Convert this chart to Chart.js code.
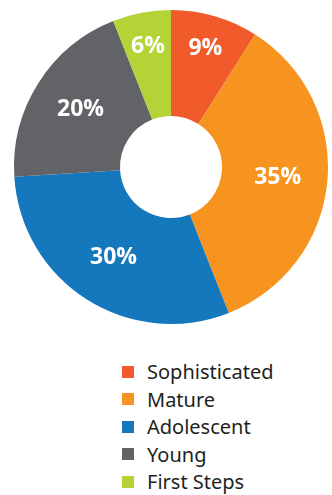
<!DOCTYPE html>
<html>
<head>
    <title>Stage Distribution</title>
    <script src="https://cdn.jsdelivr.net/npm/chart.js"></script>
    <style>
        body { margin: 0; background: #fff; font-family: "Noto Sans", sans-serif; }
        #stageChart { display: block; }
        #legend { list-style: none; margin: 22px 0 0 0; padding: 0 0 0 122px; }
        #legend li { display: flex; align-items: center; height: 27.5px; font-size: 20px; color: #231f20; }
        #legend span { display: inline-block; width: 12px; height: 12px; margin-right: 13px; }
    </style>
</head>
<body>
    <canvas id="stageChart" width="332" height="336"></canvas>
    <ul id="legend"></ul>

    <script>
        const stages = ['Sophisticated', 'Mature', 'Adolescent', 'Young', 'First Steps'];
        const shares = [9, 35, 30, 20, 6];
        const colors = ['#f15a2b', '#f7941f', '#1577bc', '#626366', '#b3d337'];

        // white percentage text inside each slice; narrow slices get pushed further out
        const sliceLabels = {
            id: 'sliceLabels',
            afterDatasetsDraw(chart) {
                const ctx = chart.ctx;
                const meta = chart.getDatasetMeta(0);
                ctx.save();
                ctx.fillStyle = '#fff';
                ctx.font = 'bold 23px "Open Sans", sans-serif';
                ctx.textAlign = 'center';
                ctx.textBaseline = 'middle';
                meta.data.forEach((arc, i) => {
                    const p = arc.getProps(['x', 'y', 'startAngle', 'endAngle', 'innerRadius', 'outerRadius']);
                    const mid = (p.startAngle + p.endAngle) / 2;
                    const f = shares[i] < 10 ? 0.68 : 0.53;
                    const r = p.innerRadius + (p.outerRadius - p.innerRadius) * f;
                    ctx.fillText(shares[i] + '%', p.x + Math.cos(mid) * r, p.y + Math.sin(mid) * r);
                });
                ctx.restore();
            }
        };

        const chart = new Chart(document.getElementById('stageChart'), {
            type: 'doughnut',
            data: {
                labels: stages,
                datasets: [{
                    data: shares,
                    backgroundColor: colors,
                    borderWidth: 0
                }]
            },
            options: {
                responsive: false,
                animation: false,
                cutout: '32.5%',
                layout: { padding: { left: 14, right: 4, top: 10, bottom: 12 } },
                plugins: {
                    legend: { display: false },
                    tooltip: { enabled: false }
                }
            },
            plugins: [sliceLabels]
        });

        // legend list built from the chart's own legend items
        const items = Chart.overrides.doughnut.plugins.legend.labels.generateLabels(chart);
        const list = document.getElementById('legend');
        items.forEach(item => {
            const li = document.createElement('li');
            const box = document.createElement('span');
            box.style.background = item.fillStyle;
            li.appendChild(box);
            li.appendChild(document.createTextNode(item.text));
            list.appendChild(li);
        });
    </script>
</body>
</html>
